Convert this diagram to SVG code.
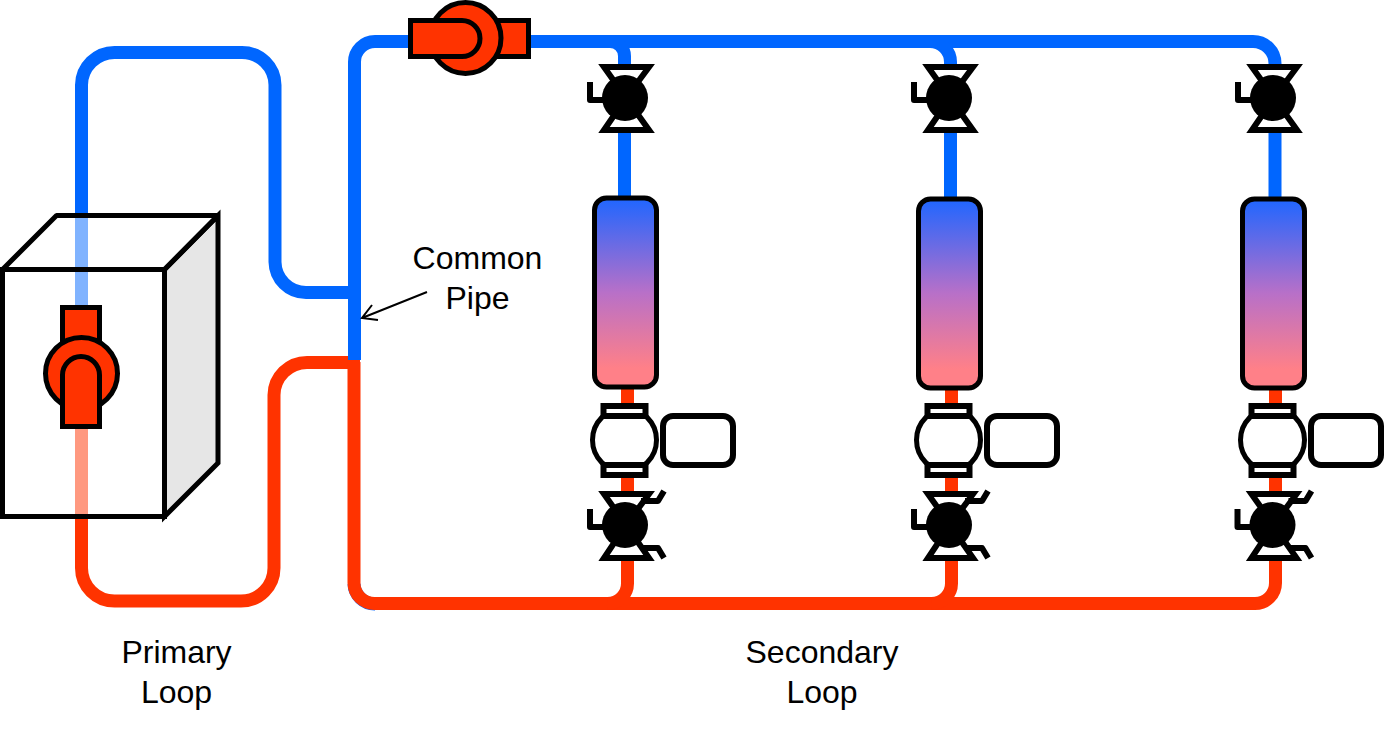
<svg xmlns="http://www.w3.org/2000/svg" width="1384" height="732" viewBox="0 0 1384 732">
  <style>
    .pipe { fill: none; stroke-width: 13; }
    .cold { stroke: #0066ff; }
    .hot { stroke: #ff3300; }
    .line { stroke: #000; stroke-width: 5; }
    .bow { fill: #fff; stroke: #000; stroke-width: 6; stroke-linejoin: miter; stroke-miterlimit: 8; }
    .red { fill: #ff3300; }
    .white { fill: #fff; }
    .open { fill: none; stroke: #000; stroke-width: 6; stroke-linejoin: round; stroke-linecap: butt; }
    .label { font-family: "Liberation Sans", Arial, sans-serif; font-size: 32px; fill: #000; text-anchor: middle; }
  </style>
  <defs>
    <linearGradient id="coilFill" x1="0" y1="0" x2="0" y2="1">
      <stop offset="0" stop-color="#1f66ff"/>
      <stop offset="0.5" stop-color="#b870c8"/>
      <stop offset="0.9" stop-color="#ff8088"/>
      <stop offset="1" stop-color="#ff8088"/>
    </linearGradient>
    <!-- Isolation valve: bowtie body, ball and handle -->
    <g id="valveBody">
      <polygon class="bow" points="-21,-31 24,-31 1,0"/>
      <polygon class="bow" points="-21,32 24,32 1,0"/>
      <circle r="23" fill="#000"/>
      <path class="open" d="M-35,-16 V2 H-15"/>
    </g>
    <!-- Coil with its fill running from supply to return -->
    <g id="coilBody">
      <rect class="line" x="-31" y="0" width="62" height="189" rx="12" fill="url(#coilFill)"/>
    </g>
    <!-- Zone pump with its drive box -->
    <g id="zonePumpBody">
      <circle class="line white" r="32"/>
      <rect class="white" x="-21" y="-34" width="42" height="10" stroke="#000" stroke-width="6"/>
      <rect class="white" x="-21" y="25" width="42" height="10" stroke="#000" stroke-width="6"/>
      <rect class="white" x="38.500" y="-24" width="70" height="49" rx="10" stroke="#000" stroke-width="6"/>
    </g>
    <!-- Control valve with two side actuators -->
    <g id="controlValveBody">
      <polygon class="bow" points="-21,-31 24,-31 1,0"/>
      <polygon class="bow" points="-21,33 24,33 1,0"/>
      <circle r="23" fill="#000"/>
      <path class="open" d="M-35,-16 V2 H-15"/>
      <path class="open" d="M16,-24 H33 L39,-34"/>
      <path class="open" d="M16,23 H33 L39,33"/>
    </g>
  </defs>

  <g id="connectors">
    <!-- Sliver of the cold run under the hot return corner -->
    <path class="pipe cold" d="M354,584 A21,21 0 0 0 375,604"/>
    <!-- Primary loop -->
    <path class="pipe cold" d="M81.500,320 V85 A33,33 0 0 1 114.500,52.500 H242 A33,33 0 0 1 275,85 V262 A31,31 0 0 0 306,292.500 H354"/>
    <path class="pipe hot" d="M81.500,420 V568 A33,33 0 0 0 114.500,601 H241 A33,33 0 0 0 274,568 V395 A33,33 0 0 1 307,362.500 H360"/>
    <!-- Common pipe and secondary supply -->
    <path class="pipe cold" d="M354.500,360 V62 A20.500,20.500 0 0 1 375,41.500 H1253 A22,22 0 0 1 1275,63.500 V205"/>
    <path class="pipe cold" d="M610,41.500 A14.500,14.500 0 0 1 624.500,56 V205"/>
    <path class="pipe cold" d="M930,41.500 A20.500,20.500 0 0 1 950.500,62 V205"/>
    <!-- Secondary return -->
    <path class="pipe hot" d="M354,362 V583 A20.500,20.500 0 0 0 374.500,603.500 H1255 A20.500,20.500 0 0 0 1275.500,583 V385"/>
    <path class="pipe hot" d="M627.500,385 V583 A20,20 0 0 1 607.500,603.500"/>
    <path class="pipe hot" d="M951.500,385 V583 A20,20 0 0 1 931.500,603.500"/>
    <!-- Pointer to the common pipe -->
    <path d="M427,292 L362,318 M372,305 L362,318 L378,320" fill="none" stroke="#000" stroke-width="2"/>
  </g>

  <g id="boiler">
    <polygon class="line" fill="#e6e6e6" points="164.500,269.500 218,215.500 218,463 164.500,516.500"/>
    <polygon class="line" fill="#fff" fill-opacity="0.5" stroke-linejoin="bevel" points="2.500,269.500 56.500,215.500 218,215.500 164.500,269.500"/>
    <rect class="line" fill="#fff" fill-opacity="0.5" x="2.500" y="269.500" width="162" height="247"/>
  </g>

  <g id="primary-pump">
    <rect class="red line" x="62.500" y="307.500" width="37" height="50"/>
    <circle class="red line" cx="81.500" cy="373.500" r="36"/>
    <path class="red line" d="M62.500,426.500 V375 A18.500,18.500 0 0 1 99.500,375 V426.500 Z"/>
  </g>

  <g id="secondary-pump">
    <rect class="red line" x="460" y="20.500" width="68.500" height="36"/>
    <circle class="red line" cx="465.500" cy="38" r="35.500"/>
    <path class="red line" d="M410.500,20.500 H462 A18,18 0 0 1 462,56.500 H410.500 Z"/>
  </g>

  <g id="valve-1" transform="translate(625,98)"><use href="#valveBody"/></g>
  <g id="valve-2" transform="translate(949,98)"><use href="#valveBody"/></g>
  <g id="valve-3" transform="translate(1273,98)"><use href="#valveBody"/></g>

  <g id="coil-1" transform="translate(625.500,198)"><use href="#coilBody"/></g>
  <g id="coil-2" transform="translate(949.500,199)"><use href="#coilBody"/></g>
  <g id="coil-3" transform="translate(1273.500,199)"><use href="#coilBody"/></g>

  <g id="zone-pump-1" transform="translate(624.500,440)"><use href="#zonePumpBody"/></g>
  <g id="zone-pump-2" transform="translate(948.500,440)"><use href="#zonePumpBody"/></g>
  <g id="zone-pump-3" transform="translate(1272.500,440)"><use href="#zonePumpBody"/></g>

  <g id="control-valve-1" transform="translate(625,525)"><use href="#controlValveBody"/></g>
  <g id="control-valve-2" transform="translate(949,525)"><use href="#controlValveBody"/></g>
  <g id="control-valve-3" transform="translate(1272.500,525)"><use href="#controlValveBody"/></g>

  <g id="labels">
    <text class="label" x="477.500" y="269">Common</text>
    <text class="label" x="477.500" y="309">Pipe</text>
    <text class="label" x="176.500" y="663">Primary</text>
    <text class="label" x="176.500" y="703">Loop</text>
    <text class="label" x="822" y="663">Secondary</text>
    <text class="label" x="822" y="703">Loop</text>
  </g>
</svg>
